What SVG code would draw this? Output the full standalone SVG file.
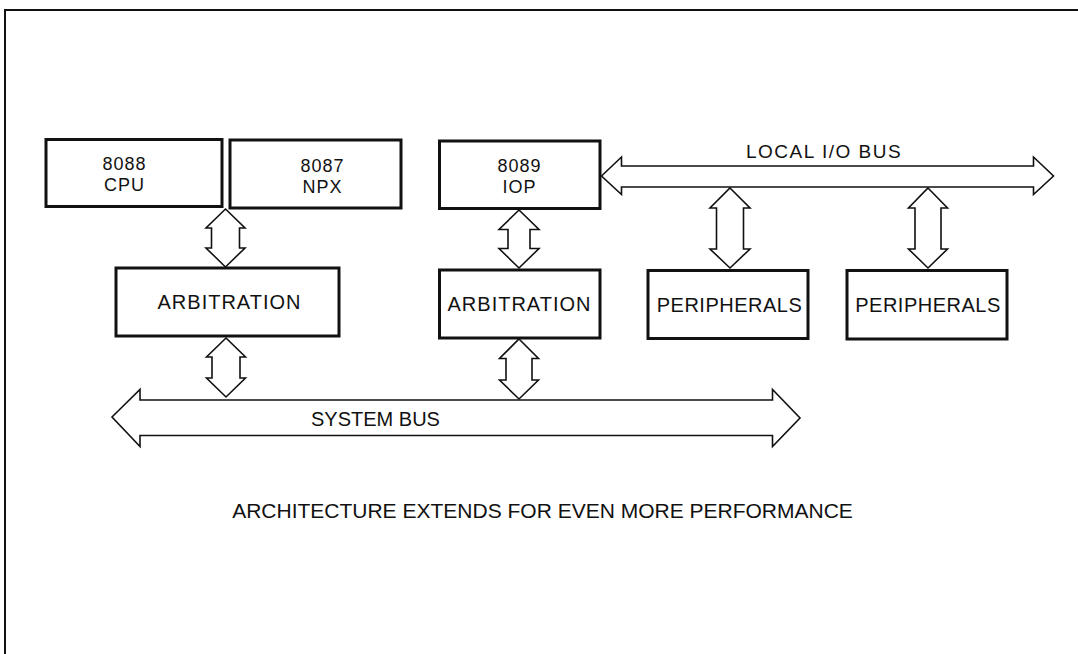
<svg xmlns="http://www.w3.org/2000/svg" width="1078" height="654" viewBox="0 0 1078 654">
<style>
.box{fill:#fff;stroke:#111;stroke-width:3}
.arr{fill:#fff;stroke:#111;stroke-width:1.6;stroke-linejoin:miter}
.t{font-family:"Liberation Sans",Arial,sans-serif;font-size:20px;fill:#111;text-anchor:middle}
.s{font-size:18px;letter-spacing:1px}
.frame{fill:none;stroke:#111;stroke-width:2}
</style>
<rect width="1078" height="654" fill="#fff"/>
<path class="frame" d="M5,654 V10 H1078"/>
<g id="connectors">
<polygon class="arr" points="225.5,209 245,228 239.5,228 239.5,248 245,248 225.5,267 206,248 211.5,248 211.5,228 206,228"/>
<polygon class="arr" points="519,210 539,229.5 530,229.5 530,248.5 539,248.5 519,268 499,248.5 508,248.5 508,229.5 499,229.5"/>
<polygon class="arr" points="730,188 750,208 743.5,208 743.5,249 750,249 730,268 710,249 716.5,249 716.5,208 710,208"/>
<polygon class="arr" points="928,188 947.5,208 941,208 941,249 947.5,249 928,268 908.5,249 915,249 915,208 908.5,208"/>
<polygon class="arr" points="226,338 245.5,357 240,357 240,378 245.5,378 226,397 206.5,378 212,378 212,357 206.5,357"/>
<polygon class="arr" points="519,339 538.5,358.5 532,358.5 532,380 538.5,380 519,399 499.5,380 506,380 506,358.5 499.5,358.5"/>
<polygon class="arr" points="601.5,176 621.5,157 621.5,166 1033.5,166 1033.5,157 1053.5,176 1033.5,194.5 1033.5,187 621.5,187 621.5,194.5"/>
<polygon class="arr" points="112,417 140,389.5 140,400 772.5,400 772.5,389.5 800,418 772.5,446.5 772.5,435.5 140,435.5 140,446.5"/>
</g>
<g id="cpu"><rect class="box" x="46" y="139.5" width="176" height="67"/><text class="t s" x="124.5" y="169.5">8088</text><text class="t s" x="124.5" y="190.5">CPU</text></g>
<g id="npx"><rect class="box" x="230" y="140" width="171" height="68"/><text class="t s" x="322.5" y="171.5">8087</text><text class="t s" x="322.5" y="192.5">NPX</text></g>
<g id="iop"><rect class="box" x="439.5" y="141" width="160.5" height="67.5"/><text class="t s" x="519.5" y="172">8089</text><text class="t s" x="519.5" y="193">IOP</text></g>
<g id="arb1"><rect class="box" x="116" y="268" width="223" height="68"/><text class="t" x="229.5" y="309" style="letter-spacing:1px">ARBITRATION</text></g>
<g id="arb2"><rect class="box" x="439.5" y="270" width="160.5" height="68"/><text class="t" x="519.5" y="311" style="letter-spacing:1px">ARBITRATION</text></g>
<g id="per1"><rect class="box" x="648" y="270.5" width="160" height="68"/><text class="t" x="729.5" y="311.5" style="letter-spacing:0.5px">PERIPHERALS</text></g>
<g id="per2"><rect class="box" x="847" y="270.5" width="160" height="68.5"/><text class="t" x="928" y="311.5" style="letter-spacing:0.5px">PERIPHERALS</text></g>
<g id="labels">
<text class="t" x="746" y="158" style="text-anchor:start;font-size:19px;letter-spacing:1.5px">LOCAL I/O BUS</text>
<text class="t" x="375.5" y="426">SYSTEM BUS</text>
<text class="t" x="542.5" y="518" style="font-size:21px">ARCHITECTURE EXTENDS FOR EVEN MORE PERFORMANCE</text>
</g>
</svg>
